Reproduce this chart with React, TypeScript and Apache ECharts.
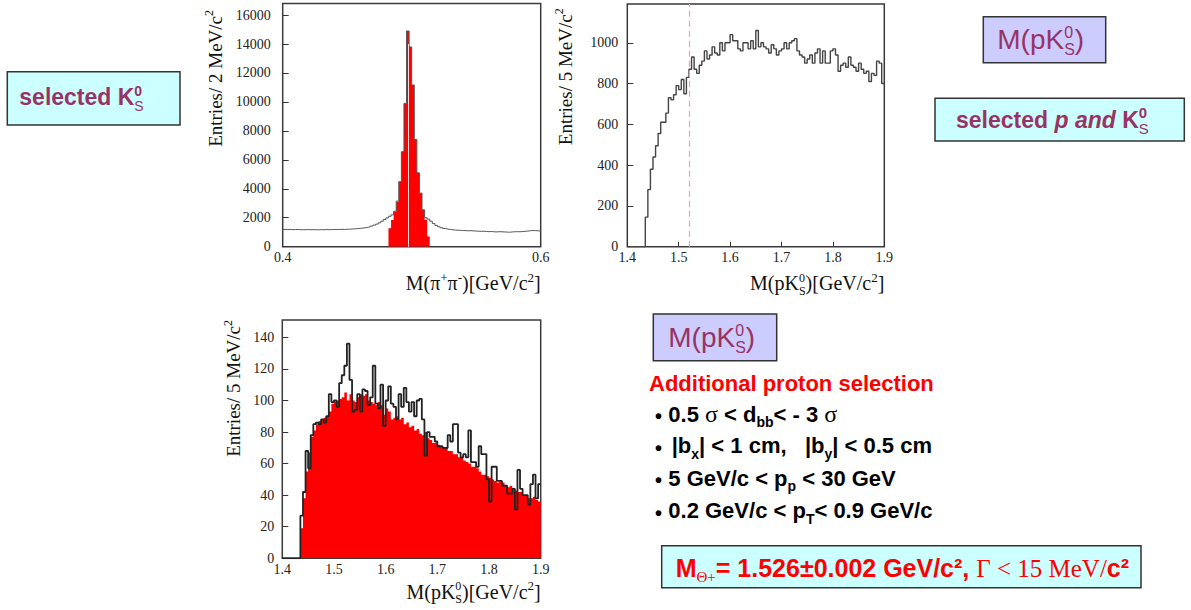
import React, { useEffect, useRef } from 'react';
import * as echarts from 'echarts';

const SANS = "'Liberation Sans', Arial, sans-serif";
const SERIF = "'Liberation Serif', 'Times New Roman', serif";
const PLUM = '#993366';
const RED = '#ff0000';
const CYAN = '#ccffff';
const LAVENDER = '#ccccff';

// M(pi+ pi-) spectrum: 2 MeV/c^2 bins from 0.400 GeV/c^2
const PIPI_LO = 0.4;
const PIPI_BIN = 0.002;
const pipiAll = [
  1190, 1180, 1195, 1175, 1185, 1190, 1170, 1180, 1175, 1185,
  1170, 1180, 1175, 1165, 1180, 1170, 1185, 1175, 1180, 1190,
  1185, 1195, 1200, 1190, 1205, 1210, 1220, 1235, 1250, 1265,
  1285, 1310, 1340, 1380, 1430, 1490, 1560, 1650, 1760, 1880,
  1990, 2100, 2200, 2450, 3150, 4490, 6560, 9900, 14900, 13800,
  11170, 7400, 5100, 3700, 2550, 2000, 1900, 1760, 1600, 1470,
  1380, 1310, 1260, 1220, 1190, 1170, 1150, 1140, 1130, 1120,
  1110, 1100, 1110, 1090, 1080, 1070, 1060, 1070, 1050, 1040,
  1050, 1030, 1020, 1040, 1030, 1020, 1010, 1000, 1020, 1030,
  1040, 1030, 1050, 1060, 1080, 1100, 1120, 1110, 1100, 1090,
];
// K0s mass window entries (filled)
const pipiSelected = [
  0, 0, 0, 0, 0, 0, 0, 0, 0, 0,
  0, 0, 0, 0, 0, 0, 0, 0, 0, 0,
  0, 0, 0, 0, 0, 0, 0, 0, 0, 0,
  0, 0, 0, 0, 0, 0, 0, 0, 0, 0,
  0, 1270, 1840, 2420, 3100, 4490, 6560, 9900, 14900, 13800,
  11170, 7400, 5100, 3700, 2550, 1850, 700, 0, 0, 0,
  0, 0, 0, 0, 0, 0, 0, 0, 0, 0,
  0, 0, 0, 0, 0, 0, 0, 0, 0, 0,
  0, 0, 0, 0, 0, 0, 0, 0, 0, 0,
  0, 0, 0, 0, 0, 0, 0, 0, 0, 0,
];
const K0_MASS = 0.497;

// M(pK0s) spectra: 5 MeV/c^2 bins from 1.400 GeV/c^2
const PK_LO = 1.4;
const PK_BIN = 0.005;
const pkSelected = [
  0, 0, 0, 0, 0, 0, 0, 145, 280, 380,
  440, 495, 555, 610, 610, 655, 730, 720, 745, 790,
  770, 820, 750, 830, 870, 930, 870, 850, 890, 910,
  960, 920, 940, 980, 950, 940, 1000, 960, 1000, 1000,
  1040, 1010, 1010, 970, 960, 1000, 1000, 970, 1010, 970,
  1060, 980, 1000, 980, 970, 950, 990, 970, 940, 960,
  970, 1000, 970, 1000, 1010, 1020, 960, 940, 930, 900,
  920, 940, 900, 950, 970, 900, 960, 900, 900, 960,
  970, 940, 860, 890, 900, 880, 930, 890, 880, 860,
  900, 870, 850, 860, 810, 850, 840, 910, 900, 800,
];
const THETA_LINE = 1.523;

// after the additional proton selection (outline)
const pkTight = [
  0, 0, 0, 0, 0, 0, 0, 27, 42, 68,
  57, 78, 85, 86, 85, 88, 86, 90, 104, 99,
  100, 96, 111, 116, 122, 136, 113, 93, 94, 104,
  93, 107, 106, 97, 102, 122, 98, 95, 110, 84,
  100, 109, 98, 96, 88, 104, 96, 108, 99, 93,
  99, 90, 100, 101, 88, 65, 80, 77, 77, 74,
  71, 71, 70, 70, 78, 74, 85, 85, 67, 64,
  66, 64, 81, 61, 61, 58, 71, 66, 66, 50,
  36, 58, 58, 49, 49, 46, 46, 41, 41, 44,
  31, 56, 44, 40, 40, 34, 47, 53, 38, 47,
];
// filled reference spectrum
const pkReference = [
  0, 0, 0, 0, 0, 0, 0, 19, 38, 55,
  67, 77, 81, 85, 87, 88, 89, 90, 93, 98,
  99, 100, 101, 102, 105, 100, 104, 100, 99, 102,
  104, 103, 104, 100, 99, 98, 97, 99, 97, 91,
  95, 93, 88, 89, 90, 88, 89, 85, 86, 83,
  84, 81, 82, 79, 78, 80, 76, 75, 73, 73,
  72, 71, 70, 70, 68, 68, 66, 66, 64, 64,
  62, 61, 60, 58, 58, 57, 55, 53, 53, 52,
  51, 50, 49, 48, 49, 48, 46, 45, 46, 44,
  43, 42, 42, 40, 40, 38, 38, 39, 37, 36,
];

type Run = {
  t: string;
  size: number;
  fam?: string;
  bold?: boolean;
  it?: boolean;
  dy?: number;
  stack?: boolean;
  color?: string;
};

let measureCtx: CanvasRenderingContext2D | null = null;
function cssFont(r: Run) {
  return `${r.it ? 'italic' : 'normal'} ${r.bold ? 'bold' : 'normal'} ${r.size}px ${r.fam ?? SANS}`;
}
function widthOf(r: Run, s: string) {
  if (!measureCtx) measureCtx = document.createElement('canvas').getContext('2d');
  measureCtx!.font = cssFont(r);
  return measureCtx!.measureText(s).width;
}

// Lays out a row of differently styled text runs on one baseline.
// A run flagged "stack" shares its x position with the following run.
function textRow(x: number, baseline: number, runs: Run[], color: string, align: 'left' | 'right' = 'left') {
  const placed: { r: Run; x: number; text: string }[] = [];
  let cx = 0;
  let held: { x: number; w: number } | null = null;
  for (const r of runs) {
    const w = widthOf(r, r.t);
    const lead = r.t.length - r.t.replace(/^\s+/, '').length;
    const leadW = lead ? widthOf(r, r.t.slice(0, lead)) : 0;
    const text = r.t.trim();
    if (held) {
      placed.push({ r, x: held.x + leadW, text });
      cx = held.x + Math.max(held.w, w);
      held = null;
    } else if (r.stack) {
      placed.push({ r, x: cx + leadW, text });
      held = { x: cx, w };
    } else {
      placed.push({ r, x: cx + leadW, text });
      cx += w;
    }
  }
  const x0 = align === 'right' ? x - cx : x;
  return placed.map(({ r, x: px, text }) => ({
    type: 'text',
    x: x0 + px,
    y: baseline + (r.dy ?? 0) - 0.34 * r.size,
    silent: true,
    style: {
      text,
      fill: r.color ?? color,
      fontSize: r.size,
      fontFamily: r.fam ?? SANS,
      fontWeight: r.bold ? 'bold' : 'normal',
      fontStyle: r.it ? 'italic' : 'normal',
      align: 'left',
      textAlign: 'left',
      verticalAlign: 'middle',
      textVerticalAlign: 'middle',
    },
  }));
}

function yTitle(cx: number, top: number, runs: Run[]) {
  const size = runs[0].size;
  return {
    type: 'group',
    x: cx + 0.34 * size,
    y: top,
    rotation: Math.PI / 2,
    children: textRow(0, 0, runs, '#111', 'right'),
  };
}

function box(x: number, y: number, w: number, h: number, fill: string) {
  return {
    type: 'rect',
    silent: true,
    shape: { x, y, width: w, height: h },
    style: { fill, stroke: '#333', lineWidth: 1.5 },
  };
}

function steps(lo: number, bin: number, vals: number[]) {
  const pts = vals.map((v, i) => [+(lo + i * bin).toFixed(4), v]);
  pts.push([+(lo + vals.length * bin).toFixed(4), vals[vals.length - 1]]);
  return pts;
}

const tickFont = { fontFamily: SERIF, fontSize: 14, color: '#222' };

function xAx(gridIndex: number, min: number, max: number, interval: number) {
  return {
    type: 'value',
    gridIndex,
    min,
    max,
    interval,
    axisLine: { show: false },
    axisTick: { show: true, inside: true, length: 5, lineStyle: { color: '#333' } },
    splitLine: { show: false },
    axisLabel: { ...tickFont, margin: 4, formatter: (v: number) => v.toFixed(1) },
  };
}

function yAx(gridIndex: number, max: number, interval: number, margin: number) {
  return {
    type: 'value',
    gridIndex,
    min: 0,
    max,
    interval,
    axisLine: { show: false },
    axisTick: { show: true, inside: true, length: 6, lineStyle: { color: '#333' } },
    splitLine: { show: false },
    axisLabel: { ...tickFont, margin, showMaxLabel: false, formatter: (v: number) => String(v) },
  };
}

const pkTitle: Run[] = [
  { t: 'M(pK', size: 20, fam: SERIF },
  { t: 'S', size: 12, fam: SERIF, dy: 5, stack: true },
  { t: '0', size: 12, fam: SERIF, dy: -8 },
  { t: ')[GeV/c', size: 20, fam: SERIF },
  { t: '2', size: 13, fam: SERIF, dy: -8 },
  { t: ']', size: 20, fam: SERIF },
];
const pipiTitle: Run[] = [
  { t: 'M(π', size: 20, fam: SERIF },
  { t: '+', size: 13, fam: SERIF, dy: -8 },
  { t: 'π', size: 20, fam: SERIF },
  { t: '-', size: 13, fam: SERIF, dy: -8 },
  { t: ')[GeV/c', size: 20, fam: SERIF },
  { t: '2', size: 13, fam: SERIF, dy: -8 },
  { t: ']', size: 20, fam: SERIF },
];
const entries = (w: string): Run[] => [
  { t: `Entries/ ${w} MeV/c`, size: 19, fam: SERIF },
  { t: '2', size: 12, fam: SERIF, dy: -8 },
];
const mpk = (): Run[] => [
  { t: 'M(pK', size: 28 },
  { t: 'S', size: 16, dy: 6, stack: true },
  { t: '0', size: 16, dy: -11 },
  { t: ')', size: 28 },
];

function buildOption() {
  const B = 22;
  const sub = 14;
  const graphics: any[] = [
    // slide annotations
    box(7.3, 71.7, 172.7, 53.3, CYAN),
    ...textRow(19.3, 105, [
      { t: 'selected K', size: 23, bold: true },
      { t: 'S', size: 14, dy: 6, stack: true },
      { t: '0', size: 14, bold: true, dy: -9 },
    ], PLUM),
    box(983.3, 16.7, 122.4, 46, LAVENDER),
    ...textRow(997.3, 49.3, mpk(), PLUM),
    box(935, 98.3, 249.3, 42.7, CYAN),
    ...textRow(956, 128.3, [
      { t: 'selected ', size: 23, bold: true },
      { t: 'p and ', size: 23, bold: true, it: true },
      { t: 'K', size: 23, bold: true },
      { t: 'S', size: 15, dy: 5, stack: true },
      { t: '0', size: 15, bold: true, dy: -11 },
    ], PLUM),
    box(653.3, 314, 123.4, 46.7, LAVENDER),
    ...textRow(668.3, 346.7, mpk(), PLUM),
    ...textRow(649, 390.7, [{ t: 'Additional proton selection', size: B, bold: true }], RED),
    ...[421.7, 453.3, 485.7, 518.3].flatMap((b) =>
      textRow(655, b + 1.5, [{ t: '•', size: 20, bold: true }], '#000')
    ),
    ...textRow(668.3, 421.7, [
      { t: '0.5 ', size: B, bold: true },
      { t: 'σ', size: 24, fam: SERIF },
      { t: ' < d', size: B, bold: true },
      { t: 'bb', size: sub, bold: true, dy: 5 },
      { t: '< - 3 ', size: B, bold: true },
      { t: 'σ', size: 24, fam: SERIF },
    ], '#000'),
    ...textRow(671.7, 453.3, [
      { t: '|b', size: B, bold: true },
      { t: 'x', size: sub, bold: true, dy: 5 },
      { t: '| < 1 cm,', size: B, bold: true },
      { t: '   |b', size: B, bold: true },
      { t: 'y', size: sub, bold: true, dy: 5 },
      { t: '| < 0.5 cm', size: B, bold: true },
    ], '#000'),
    ...textRow(668.3, 485.7, [
      { t: '5 GeV/c < p', size: B, bold: true },
      { t: 'p', size: sub, bold: true, dy: 5 },
      { t: ' < 30 GeV', size: B, bold: true },
    ], '#000'),
    ...textRow(668.3, 518.3, [
      { t: '0.2 GeV/c < p', size: B, bold: true },
      { t: 'T', size: sub, bold: true, dy: 5 },
      { t: '< 0.9 GeV/c', size: B, bold: true },
    ], '#000'),
    box(661.7, 545.7, 479.3, 42, CYAN),
    ...textRow(675.7, 576.7, [
      { t: 'M', size: 25, bold: true },
      { t: 'Θ+', size: 15, fam: SERIF, dy: 5 },
      { t: '= 1.526±0.002 GeV/c², ', size: 25, bold: true },
      { t: 'Γ < 15 MeV/', size: 25, fam: SERIF },
      { t: 'c²', size: 25, bold: true },
    ], RED),
    // axis titles
    ...textRow(540.7, 289.5, pipiTitle, '#111', 'right'),
    ...textRow(884.3, 290, pkTitle, '#111', 'right'),
    ...textRow(540.7, 598.3, pkTitle, '#111', 'right'),
    yTitle(215, 10, entries('2')),
    yTitle(565, 8.3, entries('5')),
    yTitle(233.3, 320, entries('5')),
  ];

  const gridStyle = { show: true, borderColor: '#3a3a3a', borderWidth: 1.5, backgroundColor: 'transparent' };

  return {
    animation: false,
    backgroundColor: '#ffffff',
    grid: [
      { ...gridStyle, left: 282.7, top: 3.5, width: 258, height: 243.2 },
      { ...gridStyle, left: 627.3, top: 4, width: 257, height: 242.7 },
      { ...gridStyle, left: 282.3, top: 320, width: 258.4, height: 238.3 },
    ],
    xAxis: [xAx(0, 0.4, 0.6, 0.2), xAx(1, 1.4, 1.9, 0.1), xAx(2, 1.4, 1.9, 0.1)],
    yAxis: [yAx(0, 16800, 2000, 12), yAx(1, 1190, 200, 9), yAx(2, 151, 20, 8)],
    series: [
      {
        type: 'line',
        xAxisIndex: 0,
        yAxisIndex: 0,
        step: 'end',
        symbol: 'none',
        silent: true,
        data: steps(PIPI_LO, PIPI_BIN, pipiSelected),
        lineStyle: { width: 0 },
        areaStyle: { color: RED, opacity: 1 },
        markLine: {
          silent: true,
          symbol: ['none', 'none'],
          label: { show: false },
          lineStyle: { color: '#ffd6d6', width: 1, type: 'solid' },
          data: [[{ coord: [K0_MASS, 0] }, { coord: [K0_MASS, 14000] }]],
        },
      },
      {
        type: 'line',
        xAxisIndex: 0,
        yAxisIndex: 0,
        step: 'end',
        symbol: 'none',
        silent: true,
        data: steps(PIPI_LO, PIPI_BIN, pipiAll),
        lineStyle: { color: '#555', width: 1 },
      },
      {
        type: 'line',
        xAxisIndex: 1,
        yAxisIndex: 1,
        step: 'end',
        symbol: 'none',
        silent: true,
        data: steps(PK_LO, PK_BIN, pkSelected),
        lineStyle: { color: '#444', width: 1.4 },
        markLine: {
          silent: true,
          symbol: ['none', 'none'],
          label: { show: false },
          lineStyle: { color: '#f4a0a0', width: 1.2, type: [6, 4] },
          data: [{ xAxis: THETA_LINE }],
        },
      },
      {
        type: 'line',
        xAxisIndex: 2,
        yAxisIndex: 2,
        step: 'end',
        symbol: 'none',
        silent: true,
        data: steps(PK_LO, PK_BIN, pkReference),
        lineStyle: { width: 0 },
        areaStyle: { color: RED, opacity: 1 },
      },
      {
        type: 'line',
        xAxisIndex: 2,
        yAxisIndex: 2,
        step: 'end',
        symbol: 'none',
        silent: true,
        data: steps(PK_LO, PK_BIN, pkTight),
        lineStyle: { color: '#222', width: 1.8 },
      },
    ],
    graphic: { elements: graphics },
  };
}

export default function App() {
  const ref = useRef<HTMLDivElement>(null);
  useEffect(() => {
    const chart = echarts.init(ref.current!, null, { renderer: 'svg' });
    chart.setOption(buildOption() as any);
    return () => chart.dispose();
  }, []);
  return (
    <div
      ref={ref}
      style={{ position: 'absolute', left: 0, top: 0, width: 1191, height: 610, background: '#fff' }}
    />
  );
}
